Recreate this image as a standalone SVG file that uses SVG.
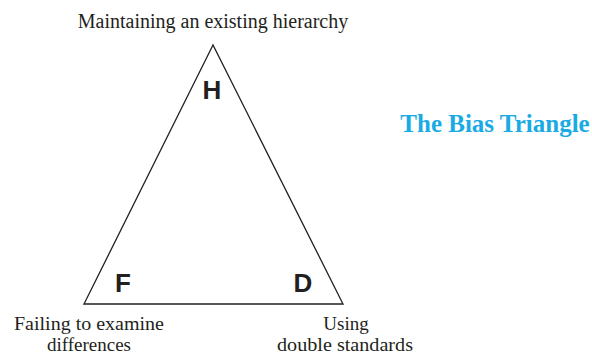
<svg xmlns="http://www.w3.org/2000/svg" width="592" height="355" viewBox="0 0 592 355">
<style>
.lbl{font-size:20px;fill:#231f20;text-anchor:middle}
.lbl2{font-size:19px;fill:#231f20;text-anchor:middle}
.ltr{font-size:26px;font-weight:bold;fill:#231f20;text-anchor:middle}
.ttl{font-size:25px;font-weight:bold;fill:#1aabe4;text-anchor:middle}
</style>
<rect width="592" height="355" fill="#fff"/>
<g id="connectors">
<polygon points="213,45 84,304 343,304" fill="none" stroke="#231f20" stroke-width="1.3"/>
</g>
<g id="node-H">
<text class="ltr" font-family="Liberation Sans, Arial, sans-serif" x="212" y="99">H</text>
<text class="lbl" font-family="Liberation Serif, Times New Roman, serif" x="213" y="28">Maintaining an existing hierarchy</text>
</g>
<g id="node-F">
<text class="ltr" font-family="Liberation Sans, Arial, sans-serif" x="123" y="292">F</text>
<text class="lbl2" font-family="Liberation Serif, Times New Roman, serif" x="89" y="330" textLength="150" lengthAdjust="spacingAndGlyphs">Failing to examine</text>
<text class="lbl2" font-family="Liberation Serif, Times New Roman, serif" x="89" y="351">differences</text>
</g>
<g id="node-D">
<text class="ltr" font-family="Liberation Sans, Arial, sans-serif" x="303" y="292">D</text>
<text class="lbl2" font-family="Liberation Serif, Times New Roman, serif" x="346" y="330">Using</text>
<text class="lbl2" font-family="Liberation Serif, Times New Roman, serif" x="345" y="351" textLength="136" lengthAdjust="spacingAndGlyphs">double standards</text>
</g>
<text class="ttl" font-family="Liberation Serif, Times New Roman, serif" x="495" y="132">The Bias Triangle</text>
</svg>
